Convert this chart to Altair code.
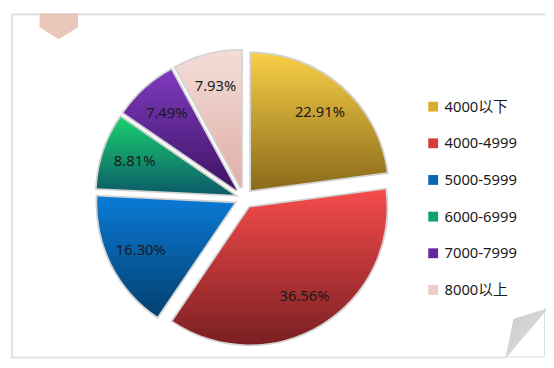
import altair as alt
import pandas as pd

# ---- data ----
categories = ["4000以下", "4000-4999", "5000-5999", "6000-6999", "7000-7999", "8000以上"]
shares = [22.91, 36.56, 16.30, 8.81, 7.49, 7.93]
labels = ["22.91%", "36.56%", "16.30%", "8.81%", "7.49%", "7.93%"]

# ---- styles ----
top_colors = ["#f8cf47", "#f64b4b", "#0a7ad6", "#1bd06f", "#7f3abf", "#f3ddd7"]
bottom_colors = ["#8a6a1a", "#7a1f22", "#03406f", "#0b5a68", "#3e1364", "#dfaea6"]
legend_colors = ["#d9ac30", "#d93a3a", "#0866b4", "#13a06c", "#63289a", "#ecccc6"]

FONT = "Noto Sans, Noto Sans CJK SC, sans-serif"
CX, CY = 236.4, 187.5   # pie centre (view pixels)
D = 11                  # explosion distance
R = 139                 # radius
LR = 106                # label distance from slice centre

df = pd.DataFrame({
    "cat": categories,
    "share": shares,
    "label": labels,
    "order": list(range(len(categories))),
})

one = pd.DataFrame({"k": [0]})

# decorations (paper frame with folded corner, pink tab)
frame = alt.Chart(one).mark_point(
    shape="M 1 1 L 544 1 L 544 299 L 502 349 L 1 349 Z",
    size=4, filled=True, fill="white", stroke="#e3e3e3", strokeWidth=2, opacity=1,
).encode(x=alt.value(0), y=alt.value(0))

tab = alt.Chart(one).mark_point(
    shape="M 29 0 L 68 0 L 68 14 L 48.5 26 L 29 14 Z",
    size=4, filled=True, fill="#ebc6ba", strokeWidth=0, opacity=1,
).encode(x=alt.value(0), y=alt.value(0))

fold = alt.Chart(one).mark_point(
    shape="M 510 310 L 545 299 L 502 349 Z",
    size=4, filled=True, strokeWidth=0, opacity=1,
    fill=alt.LinearGradient(
        gradient="linear",
        stops=[alt.GradientStop(color="#c9c9c9", offset=0),
               alt.GradientStop(color="#e2e2e2", offset=1)],
        x1=0, y1=0, x2=1, y2=1),
).encode(x=alt.value(0), y=alt.value(0))

base = (
    alt.Chart(df)
    .transform_joinaggregate(total="sum(share)")
    .transform_window(cum="sum(share)", sort=[alt.SortField("order")], frame=[None, 0])
    .transform_calculate(
        start="(datum.cum - datum.share) / datum.total * 2 * PI",
        end="datum.cum / datum.total * 2 * PI",
    )
    .transform_calculate(mid="(datum.start + datum.end) / 2")
    .transform_calculate(
        cx=f"{CX} + {D} * sin(datum.mid)",
        cy=f"{CY} - {D} * cos(datum.mid)",
    )
    .transform_calculate(
        lx=f"datum.cx + {LR} * sin(datum.mid)",
        ly=f"datum.cy - {LR} * cos(datum.mid)",
    )
)

arc_enc = dict(
    x=alt.X("cx:Q", scale=None, axis=None),
    y=alt.Y("cy:Q", scale=None, axis=None),
    theta=alt.Theta("start:Q", scale=None),
    theta2=alt.Theta2("end:Q"),
)

arcs = base.mark_arc(radius=R, stroke="#d3d3d3", strokeWidth=3.5).encode(
    color=alt.Color(
        "cat:N",
        scale=alt.Scale(domain=categories, range=legend_colors),
        sort=categories,
        legend=alt.Legend(
            title=None, orient="none", legendX=421, legendY=87,
            symbolType="square", symbolSize=100, symbolStrokeWidth=0,
            labelFont=FONT, labelFontSize=15, labelColor="#1a1a1a",
            labelOffset=4, rowPadding=21.2, padding=0,
        ),
    ),
    **arc_enc,
)

grad_layers = []
for cat, t, b in zip(categories, top_colors, bottom_colors):
    g = alt.LinearGradient(
        gradient="linear",
        stops=[alt.GradientStop(color=t, offset=0), alt.GradientStop(color=b, offset=1)],
        x1=0, y1=0, x2=0, y2=1,
    )
    grad_layers.append(
        base.transform_filter(alt.datum.cat == cat)
        .mark_arc(radius=R, fill=g, strokeWidth=0)
        .encode(**arc_enc)
    )

text = base.mark_text(font=FONT, fontSize=15, color="#1a1a1a").encode(
    x=alt.X("lx:Q", scale=None, axis=None),
    y=alt.Y("ly:Q", scale=None, axis=None),
    text="label:N",
)

chart = alt.layer(frame, tab, fold, arcs, *grad_layers, text).properties(
    width=546, height=352,
    autosize=alt.AutoSizeParams(type="fit", contains="padding"),
    padding=0,
).configure_view(stroke=None).configure(background="white")

chart.save("out.html", embed_options={"renderer": "svg", "actions": False})
